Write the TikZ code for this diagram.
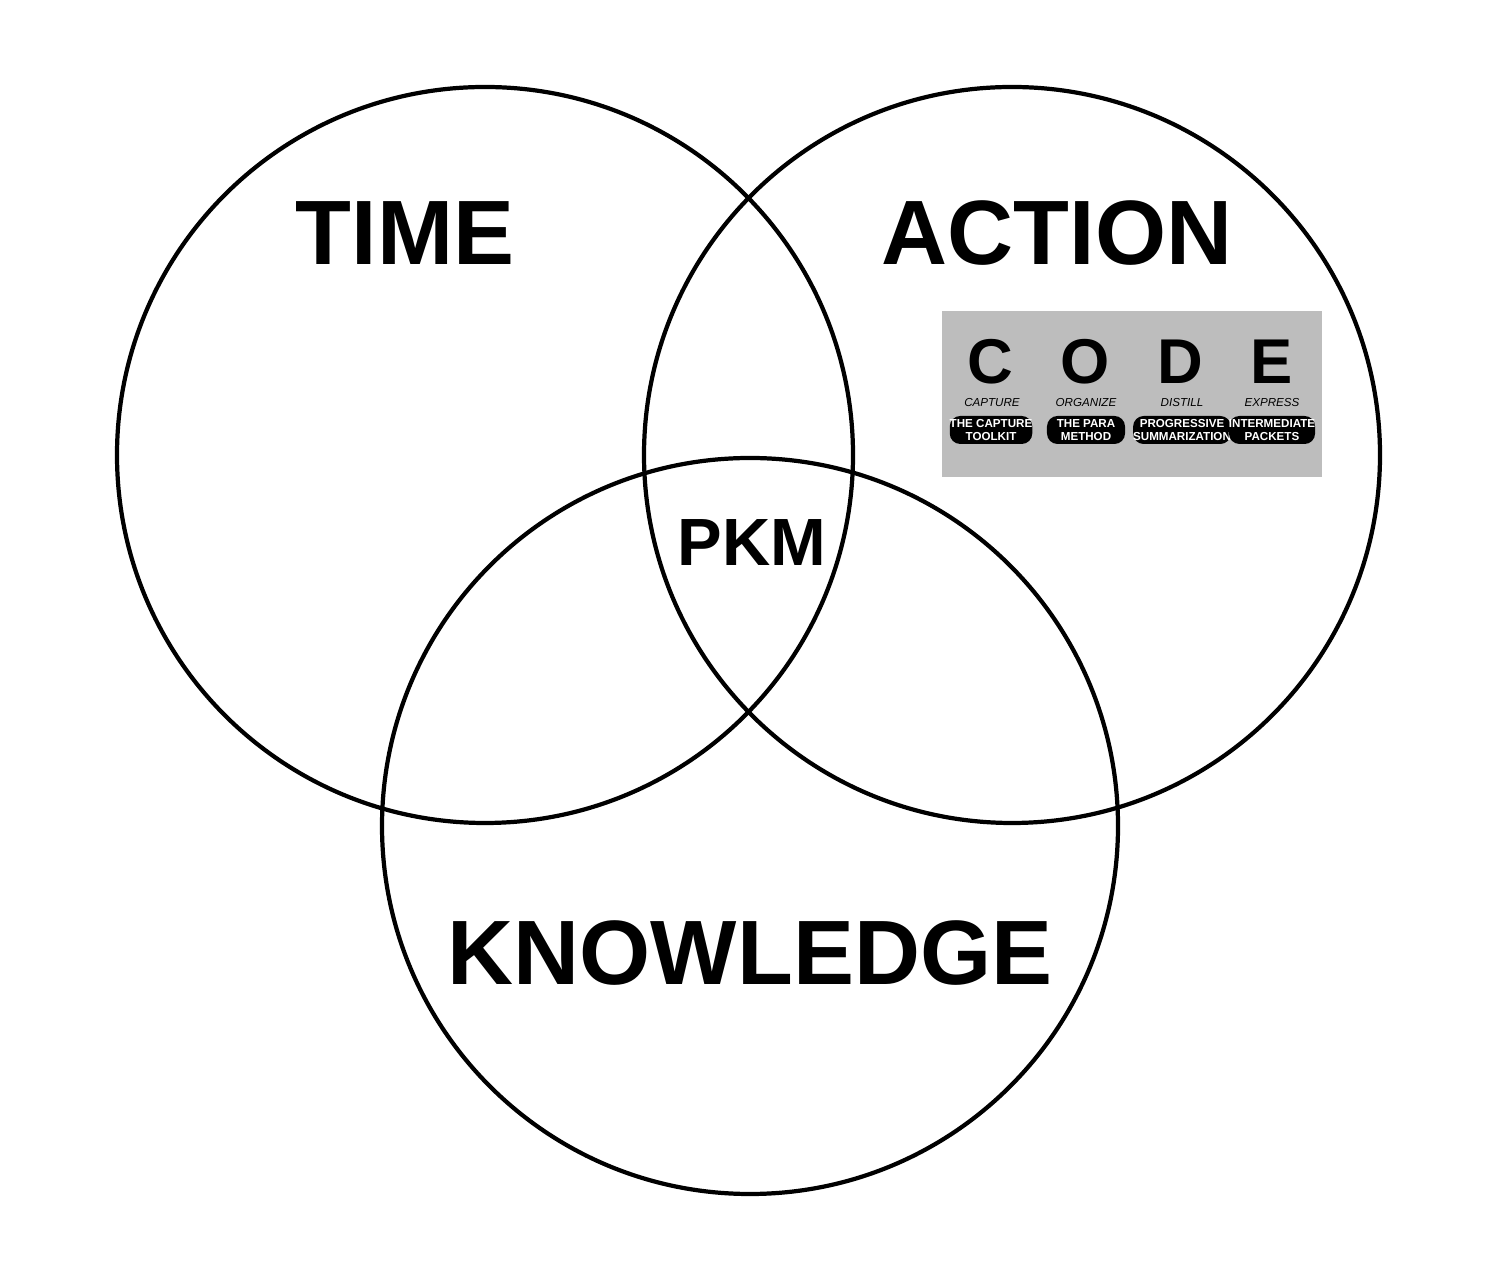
\documentclass[tikz,border=0pt]{standalone}
\usepackage{fontspec}
\setmainfont{Liberation Sans}
\begin{document}
\begin{tikzpicture}
  [x=0.01cm,y=-0.01cm,
   ring/.style={draw=black,line width=1.2pt},
   bigword/.style={font=\fontsize{26}{26}\selectfont\bfseries},
   letter/.style={font=\fontsize{18}{18}\selectfont\bfseries},
   stage/.style={font=\fontsize{3.3}{4}\selectfont\itshape},
   tag/.style={rectangle,rounded corners=3pt,fill=black,text=white,align=center,
               minimum width=0.78cm,minimum height=0.28cm,inner sep=0pt,
               font=\fontsize{3.3}{3.6}\selectfont\bfseries}]
  \useasboundingbox (0,0) rectangle (1497,1280);
  \draw[ring] (485,455) circle (368);
  \draw[ring] (1012,455) circle (368);
  \draw[ring] (750,826) circle (368);
  \node[bigword] (time) at (405,233) {TIME};
  \node[bigword] (action) at (1057,233) {ACTION};
  \node[bigword] (knowledge) at (750,953) {KNOWLEDGE};
  \node[font=\fontsize{19}{19}\selectfont\bfseries] (pkm) at (752,543) {PKM};
  \fill[black!26] (942,311) rectangle (1322,477);
  \node[letter] (c) at (990,362) {C};
  \node[letter] (o) at (1085,362) {O};
  \node[letter] (d) at (1180,362) {D};
  \node[letter] (e) at (1272,362) {E};
  \node[stage] (capture) at (992,403) {CAPTURE};
  \node[stage] (organize) at (1086,403) {ORGANIZE};
  \node[stage] (distill) at (1182,403) {DISTILL};
  \node[stage] (express) at (1272,403) {EXPRESS};
  \node[tag] (toolkit) at (991,430) {THE CAPTURE\\TOOLKIT};
  \node[tag] (para) at (1086,430) {THE PARA\\METHOD};
  \node[tag] (progressive) at (1182,430) {PROGRESSIVE\\SUMMARIZATION};
  \node[tag] (packets) at (1272,430) {INTERMEDIATE\\PACKETS};
\end{tikzpicture}
\end{document}
